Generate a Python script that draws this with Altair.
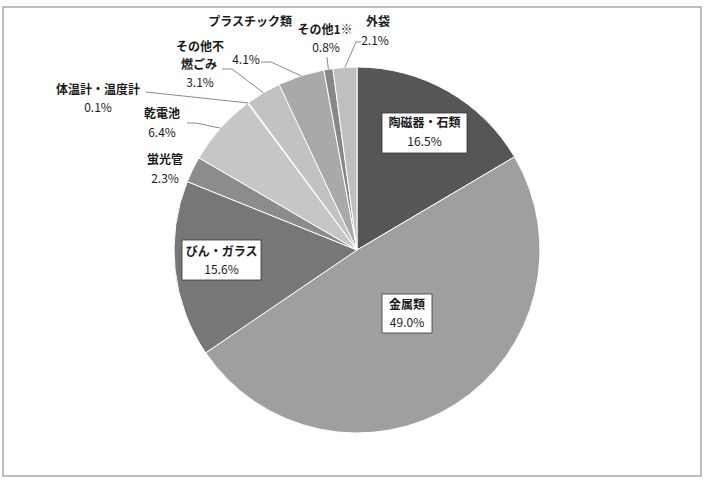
import math
import altair as alt
import pandas as pd

# ---- data ----
categories = ["陶磁器・石類", "金属類", "びん・ガラス", "蛍光管", "乾電池",
              "体温計・温度計", "その他不燃ごみ", "プラスチック類", "その他1※", "外袋"]
values = [16.5, 49.0, 15.6, 2.3, 6.4, 0.1, 3.1, 4.1, 0.8, 2.1]

# ---- style ----
palette = ["#565656", "#9f9f9f", "#777777", "#8c8c8c", "#c6c6c6",
           "#b4b4b4", "#c2c2c2", "#a9a9a9", "#878787", "#bfbfbf"]
W, H = 704, 481
CX, CY, R = 357, 250, 183
FONT = "Noto Sans CJK JP"

# label layout (pixel centres of each text line): name lines, pct line
layout = {
    "陶磁器・石類": dict(name=[(424.5, 123)], pct=(424.5, 142), box=(424.5, 133, 85, 40)),
    "金属類": dict(name=[(407, 305)], pct=(407, 323), box=(407, 313.5, 50, 39)),
    "びん・ガラス": dict(name=[(221.5, 252)], pct=(221.5, 270), box=(221.5, 260, 79, 40)),
    "蛍光管": dict(name=[(165, 160)], pct=(165, 179)),
    "乾電池": dict(name=[(162, 114)], pct=(162, 133), lead=[(187, 123), (196, 123)]),
    "体温計・温度計": dict(name=[(98, 90)], pct=(98, 108), lead=[(146, 92)]),
    "その他不燃ごみ": dict(name=[(200, 47), (199, 65)], pct=(200, 83),
                          split=["その他不", "燃ごみ"], lead=[(222, 69), (232, 69)]),
    "プラスチック類": dict(name=[(250, 22)], pct=(246, 60), lead=[(261, 62), (271, 62)]),
    "その他1※": dict(name=[(325, 30)], pct=(326, 48), lead=[(327, 57)]),
    "外袋": dict(name=[(378, 22)], pct=(375, 41), lead=[(361, 42), (356, 42)]),
}

pie_df = pd.DataFrame({"cat": categories, "val": values, "idx": range(len(values))})

# mid angles from cumulative values
total = sum(values)
mids = {}
cum = 0.0
for c, v in zip(categories, values):
    mids[c] = (cum + v / 2) / total * 2 * math.pi
    cum += v

name_rows, pct_rows, box_rows, lead_rows = [], [], [], []
for c, v in zip(categories, values):
    L = layout[c]
    names = L.get("split", [c])
    for t, (x, y) in zip(names, L["name"]):
        name_rows.append(dict(t=t, x=x, y=y))
    pct_rows.append(dict(t=f"{v:.1f}%", x=L["pct"][0], y=L["pct"][1]))
    if "box" in L:
        bx, by, bw, bh = L["box"]
        box_rows.append(dict(x=bx - bw / 2, x2=bx + bw / 2, y=by - bh / 2, y2=by + bh / 2))
    if "lead" in L:
        pts = list(L["lead"])
        a = mids[c]
        pts.append((CX + R * math.sin(a), CY - R * math.cos(a)))
        for i, (x, y) in enumerate(pts):
            lead_rows.append(dict(cat=c, o=i, x=x, y=y))

xs = alt.Scale(domain=[0, W], range=[0, W], nice=False, zero=False)
ys = alt.Scale(domain=[0, H], range=[0, H], nice=False, zero=False)

border = alt.Chart(pd.DataFrame({"a": [0]})).mark_rect(
    fill="white", stroke="#a8a8a8", strokeWidth=1.5
).encode(x=alt.value(3), x2=alt.value(701), y=alt.value(7), y2=alt.value(476))

pie = alt.Chart(pie_df).mark_arc(outerRadius=R, stroke="white", strokeWidth=1).encode(
    theta=alt.Theta("val:Q", stack=True),
    order=alt.Order("idx:Q"),
    color=alt.Color("cat:N", scale=alt.Scale(domain=categories, range=palette), sort=None, legend=None),
    x=alt.value(CX), y=alt.value(CY),
)

leads = alt.Chart(pd.DataFrame(lead_rows)).mark_line(color="#8a8a8a", strokeWidth=1).encode(
    x=alt.X("x:Q", scale=xs, axis=None),
    y=alt.Y("y:Q", scale=ys, axis=None),
    detail="cat:N", order="o:Q",
)

boxes = alt.Chart(pd.DataFrame(box_rows)).mark_rect(
    fill="white", stroke="#333333", strokeWidth=0.8
).encode(
    x=alt.X("x:Q", scale=xs, axis=None), x2="x2:Q",
    y=alt.Y("y:Q", scale=ys, axis=None), y2="y2:Q",
)

names_l = alt.Chart(pd.DataFrame(name_rows)).mark_text(
    font=FONT, fontSize=12, fontWeight="bold", color="#1a1a1a", baseline="middle", align="center"
).encode(x=alt.X("x:Q", scale=xs, axis=None), y=alt.Y("y:Q", scale=ys, axis=None), text="t:N")

pcts_l = alt.Chart(pd.DataFrame(pct_rows)).mark_text(
    font=FONT, fontSize=12, color="#1a1a1a", baseline="middle", align="center"
).encode(x=alt.X("x:Q", scale=xs, axis=None), y=alt.Y("y:Q", scale=ys, axis=None), text="t:N")

chart = alt.layer(border, pie, leads, boxes, names_l, pcts_l).properties(
    width=W, height=H, padding=0, autosize=alt.AutoSizeParams(type="none"), background="white"
).resolve_scale(x="shared", y="shared").configure_view(stroke=None)

chart.save("out.html", embed_options={"renderer": "svg", "actions": False})
